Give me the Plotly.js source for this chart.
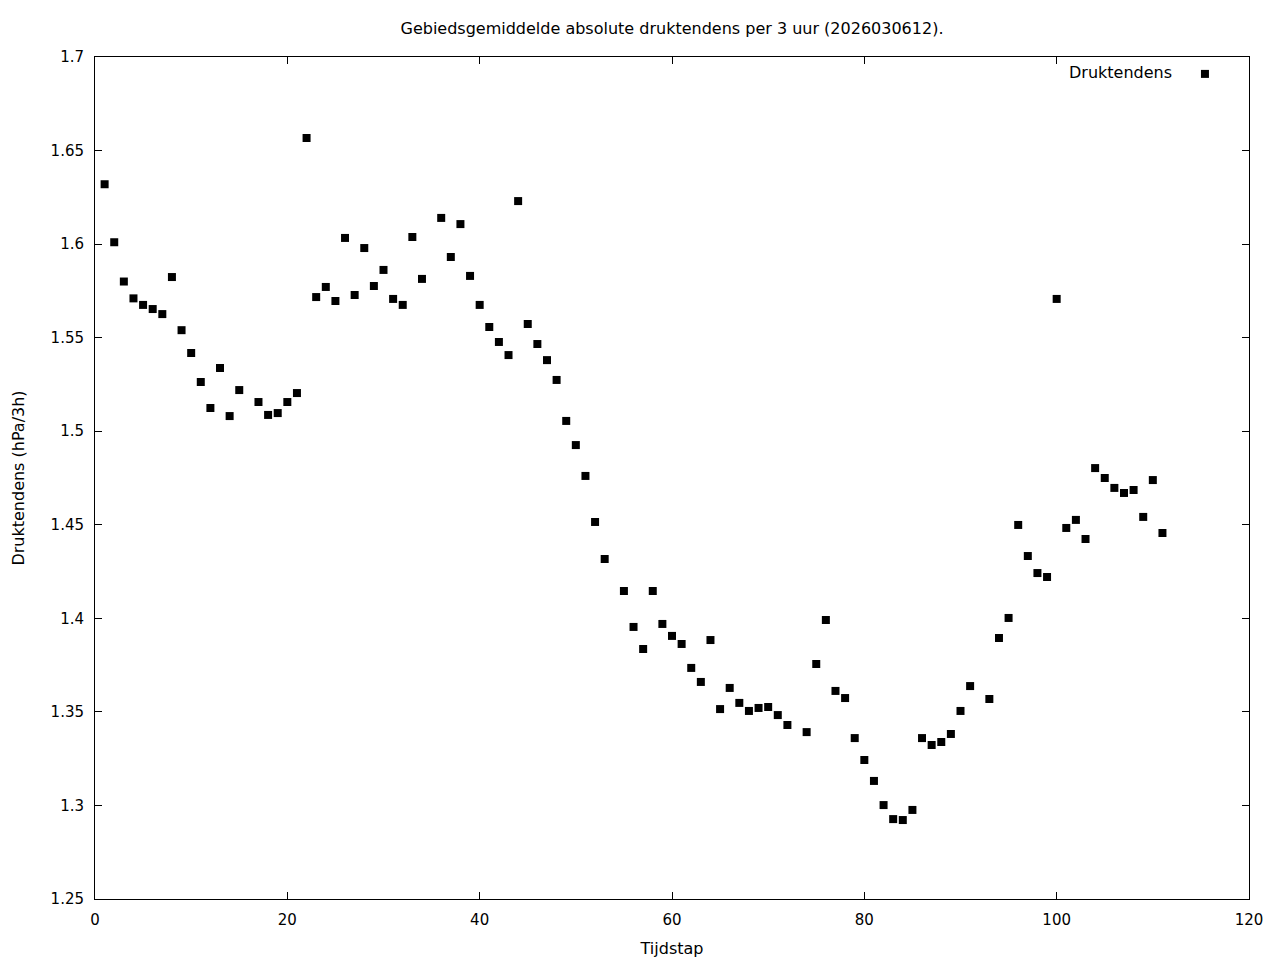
<!DOCTYPE html>
<html>
<head>
<meta charset="utf-8">
<script src="https://cdn.plot.ly/plotly-3.0.1.min.js"></script>
<style>html,body{margin:0;padding:0;background:#fff;}#chart{width:1280px;height:960px;}</style>
</head>
<body>
<div id="chart"></div>
<script>
const tijdstap = [1,2,3,4,5,6,7,8,9,10,11,12,13,14,15,17,18,19,20,21,22,23,24,25,26,27,28,29,30,31,32,33,34,36,37,38,39,40,41,42,43,44,45,46,47,48,49,50,51,52,53,55,56,57,58,59,60,61,62,63,64,65,66,67,68,69,70,71,72,74,75,76,77,78,79,80,81,82,83,84,85,86,87,88,89,90,91,93,94,95,96,97,98,99,100,101,102,103,104,105,106,107,108,109,110,111];
const druktendens = [1.632,1.601,1.580,1.571,1.5675,1.5653,1.5626,1.5824,1.554,1.5418,1.5263,1.5124,1.5338,1.5081,1.522,1.5156,1.5087,1.5097,1.5156,1.5204,1.6567,1.5717,1.5771,1.5696,1.6033,1.5728,1.5979,1.5776,1.5862,1.5707,1.5675,1.6038,1.5814,1.614,1.5931,1.6107,1.583,1.5675,1.5557,1.5477,1.5407,1.623,1.5573,1.5466,1.538,1.5274,1.5055,1.4926,1.4761,1.4515,1.4317,1.4146,1.3954,1.3836,1.4146,1.397,1.3906,1.3863,1.3735,1.366,1.3884,1.3515,1.3628,1.3548,1.3505,1.3521,1.3526,1.3483,1.343,1.3392,1.3756,1.3991,1.3612,1.3574,1.336,1.3243,1.3131,1.3002,1.2927,1.2922,1.2976,1.336,1.3323,1.3339,1.3382,1.3505,1.3638,1.3569,1.3895,1.4002,1.4499,1.4333,1.4242,1.4221,1.5707,1.4483,1.4526,1.4424,1.4803,1.475,1.4697,1.467,1.4686,1.4542,1.4739,1.4456];
const xTicks = [0,20,40,60,80,100,120];
const yTicks = [1.25,1.3,1.35,1.4,1.45,1.5,1.55,1.6,1.65,1.7];
const yTickText = ['1.25','1.3','1.35','1.4','1.45','1.5','1.55','1.6','1.65','1.7'];
const seriesName = 'Druktendens';

const font = {family: 'DejaVu Sans, sans-serif', size: 16, color: '#000'};
const tickFont = {family: 'DejaVu Sans, sans-serif', size: 15, color: '#000'};

const trace = {
  x: tijdstap, y: druktendens, type: 'scatter', mode: 'markers',
  name: '', showlegend: true,
  marker: {symbol: 'square', size: 8, color: '#000', line: {width: 0}}
};

const axisCommon = {
  showgrid: false, zeroline: false, showline: true, linecolor: '#000', linewidth: 1,
  mirror: 'ticks', ticks: 'inside', ticklen: 7, tickwidth: 1, tickcolor: '#000',
  tickfont: tickFont
};

const layout = {
  width: 1280, height: 960,
  margin: {l: 95, r: 31, t: 57, b: 61, pad: 0},
  paper_bgcolor: '#fff', plot_bgcolor: '#fff',
  font: font,
  title: {text: 'Gebiedsgemiddelde absolute druktendens per 3 uur (2026030612).',
          x: 0.5, xref: 'paper', y: 1 - 28.5 / 960, yref: 'container', yanchor: 'middle',
          font: font},
  xaxis: Object.assign({}, axisCommon, {
    range: [0, 120], tickvals: xTicks, ticktext: xTicks.map(String), ticklabelstandoff: 7,
    title: {text: 'Tijdstap', standoff: 14, font: font}
  }),
  yaxis: Object.assign({}, axisCommon, {
    range: [1.25, 1.7], tickvals: yTicks, ticktext: yTickText, ticklabelstandoff: 7,
    title: {text: 'Druktendens (hPa/3h)', standoff: 21, font: font}
  }),
  showlegend: true,
  legend: {x: 0.9445, y: 1.0, xanchor: 'left', yanchor: 'top', bgcolor: 'rgba(0,0,0,0)',
           borderwidth: 0, font: font, itemwidth: 30},
  annotations: [{
    text: seriesName, xref: 'paper', yref: 'paper', x: (1174 - 95) / 1154, y: 1 - (73 - 57) / 842,
    xanchor: 'right', yanchor: 'middle', showarrow: false, font: font
  }]
};

Plotly.newPlot('chart', [trace], layout, {displayModeBar: false, staticPlot: true});
</script>
</body>
</html>
